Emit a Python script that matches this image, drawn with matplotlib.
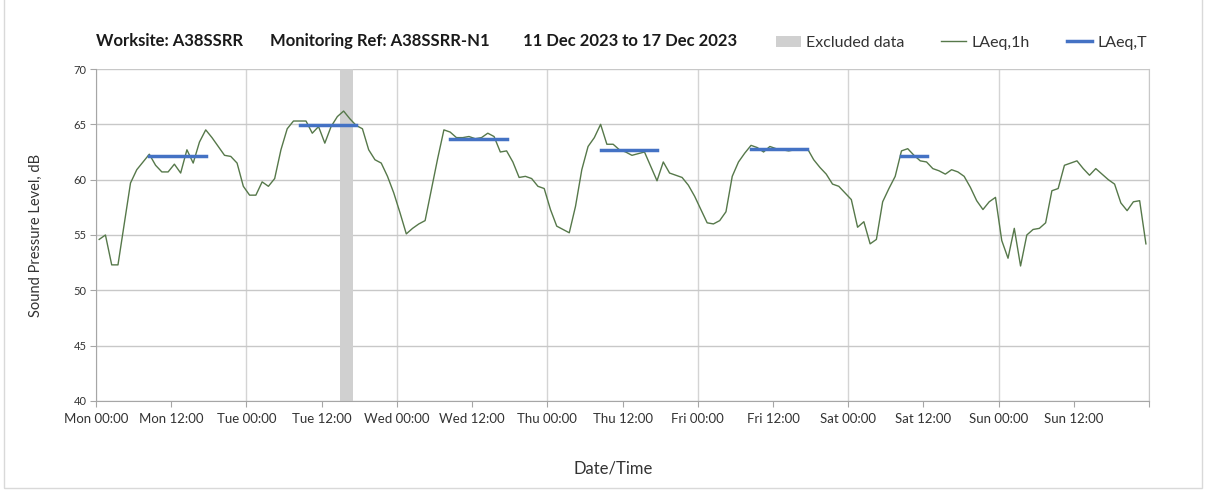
import numpy as np
import matplotlib
matplotlib.use("Agg")
import matplotlib.pyplot as plt
import matplotlib.patches as mpatches
from matplotlib.lines import Line2D

plt.rcParams['font.family'] = ['Lato', 'DejaVu Sans']

# Hourly LAeq,1h values (dB), Mon 11 Dec 2023 00:00 -> Sun 17 Dec 2023 23:00
laeq_1h = [
    # Mon
    54.6, 55.0, 52.3, 52.3, 56.0, 59.7, 60.9, 61.6, 62.3, 61.3, 60.7, 60.7,
    61.4, 60.6, 62.7, 61.5, 63.4, 64.5, 63.8, 63.0, 62.2, 62.1, 61.5, 59.4,
    # Tue
    58.6, 58.6, 59.8, 59.4, 60.1, 62.7, 64.6, 65.3, 65.3, 65.3, 64.2, 64.8,
    63.3, 64.8, 65.7, 66.2, 65.5, 64.9, 64.6, 62.7, 61.8, 61.5, 60.3, 58.8,
    # Wed
    57.0, 55.1, 55.6, 56.0, 56.3, 59.1, 61.9, 64.5, 64.3, 63.8, 63.8, 63.9,
    63.7, 63.8, 64.2, 63.9, 62.5, 62.6, 61.6, 60.2, 60.3, 60.1, 59.4, 59.2,
    # Thu
    57.3, 55.8, 55.5, 55.2, 57.6, 60.9, 63.0, 63.8, 65.0, 63.2, 63.2, 62.7,
    62.5, 62.2, 62.35, 62.5, 61.2, 59.9, 61.6, 60.6, 60.4, 60.2, 59.5, 58.5,
    # Fri
    57.3, 56.1, 56.0, 56.3, 57.1, 60.3, 61.6, 62.4, 63.1, 62.9, 62.5, 63.0,
    62.8, 62.7, 62.6, 62.7, 62.8, 62.8, 61.8, 61.1, 60.5, 59.6, 59.4, 58.8,
    # Sat
    58.2, 55.7, 56.2, 54.2, 54.6, 58.0, 59.2, 60.3, 62.6, 62.8, 62.2, 61.7,
    61.6, 61.0, 60.8, 60.5, 60.9, 60.7, 60.3, 59.3, 58.1, 57.3, 58.0, 58.4,
    # Sun
    54.5, 52.9, 55.6, 52.2, 55.0, 55.5, 55.6, 56.1, 59.0, 59.2, 61.3, 61.5,
    61.7, 61.0, 60.4, 61.0, 60.5, 60.0, 59.6, 57.9, 57.2, 58.0, 58.1, 54.2,
]

# LAeq,T daytime periods: day index (0 = Mon), start/end hour, level (dB)
laeq_t_day = [0, 1, 2, 3, 4, 5]
laeq_t_start = [8, 8, 8, 8, 8, 8]
laeq_t_end = [18, 18, 18, 18, 18, 13]
laeq_t_value = [62.1, 64.9, 63.7, 62.7, 62.8, 62.1]

# excluded data period, hours from Mon 00:00
excluded_start = 39
excluded_end = 41

day_names = ["Mon", "Tue", "Wed", "Thu", "Fri", "Sat", "Sun"]
tick_labels = [f"{d} {h}" for d in day_names for h in ("00:00", "12:00")] + [""]

hours = np.arange(len(laeq_1h)) + 0.5   # centre of each hourly interval

fig = plt.figure(figsize=(12.08, 4.94), dpi=100)
ax = fig.add_axes([0.0795, 0.1883, 0.8717, 0.672])

ax.axvspan(excluded_start, excluded_end, color='#d0d0d0', lw=0, zorder=1)
ax.plot(hours, laeq_1h, color='#56784a', lw=1.0, zorder=3)
for d, s, e, v in zip(laeq_t_day, laeq_t_start, laeq_t_end, laeq_t_value):
    ax.plot([d * 24 + s + 0.5, d * 24 + e - 0.5], [v, v], color='#4472C4',
            lw=2.5, solid_capstyle='projecting', zorder=4)

ax.set_xlim(0, 168)
ax.set_ylim(40, 70)
ax.set_yticks(np.arange(40, 71, 5))
ax.set_xticks(np.arange(0, 169, 12), labels=tick_labels)
# vertical grid only at midnight, via minor ticks
ax.xaxis.remove_overlapping_locs = False
ax.set_xticks(np.arange(0, 169, 24), minor=True)

ax.grid(axis='y', color='#c8c8c8', lw=1.0)
ax.grid(axis='x', which='minor', color='#d4d4d4', lw=1.0)
ax.set_axisbelow(True)

ax.spines['top'].set_visible(False)
ax.spines['right'].set_color('#c8c8c8')
for s in ('left', 'bottom'):
    ax.spines[s].set_color('#a6a6a6')
ax.tick_params(axis='both', which='major', length=4, color='#a6a6a6',
               labelcolor='#333333')
ax.tick_params(axis='x', which='minor', length=0)
ax.tick_params(axis='x', which='major', labelsize=9.5, pad=5)
ax.tick_params(axis='y', labelsize=8, pad=3)

ax.set_ylabel("Sound Pressure Level, dB", fontsize=10.5, color='#333333')
ax.yaxis.set_label_coords(-0.05, 0.5)
ax.set_xlabel("Date/Time", fontsize=12, color='#333333')
ax.xaxis.set_label_coords(0.491, -0.178)

# title parts
title_y = 1 - 41 / 494
fig.text(96 / 1208, title_y, "Worksite: A38SSRR", fontsize=12,
         fontweight='bold', va='center', ha='left', color='#1a1a1a')
fig.text(270 / 1208, title_y, "Monitoring Ref: A38SSRR-N1", fontsize=12,
         fontweight='bold', va='center', ha='left', color='#1a1a1a')
fig.text(523 / 1208, title_y, "11 Dec 2023 to 17 Dec 2023", fontsize=12,
         fontweight='bold', va='center', ha='left', color='#1a1a1a')

handles = [mpatches.Patch(color='#d0d0d0', lw=0),
           Line2D([], [], color='#56784a', lw=1.0),
           Line2D([], [], color='#4472C4', lw=2.5)]
fig.legend(handles, ["Excluded data", "LAeq,1h", "LAeq,T"], ncol=3,
           loc='center left', bbox_to_anchor=(776 / 1208, 1 - 43 / 494),
           frameon=False, fontsize=11.5, handlelength=1.55, handleheight=0.75,
           handletextpad=0.35, columnspacing=2.3, borderpad=0,
           borderaxespad=0, labelcolor='#333333')

# outer chart border
fig.patches.append(mpatches.Rectangle((4 / 1208, 6 / 494), 1198 / 1208, 490 / 494,
                                      transform=fig.transFigure, fill=False,
                                      edgecolor='#d9d9d9', lw=1.0))

fig.savefig("out.png", dpi=100)
